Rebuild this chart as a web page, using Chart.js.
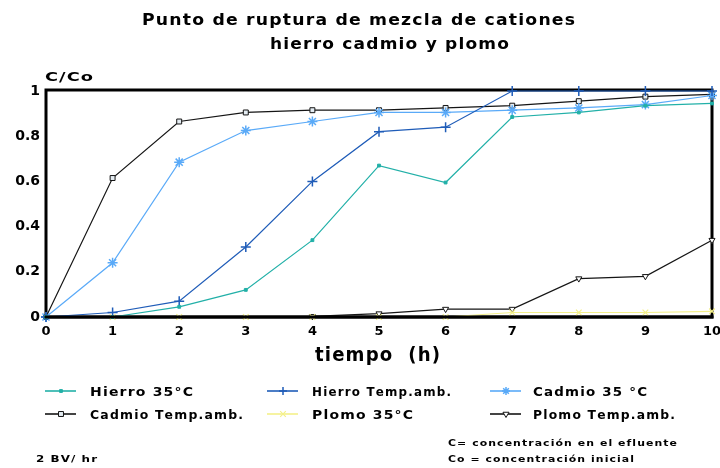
<!DOCTYPE html>
<html><head><meta charset="utf-8">
<script src="https://cdn.jsdelivr.net/npm/chart.js@4/dist/chart.umd.min.js"></script>
<style>html,body{margin:0;padding:0;background:#fff}#wrap{width:720px;height:468px}</style>
</head><body><div id="wrap"><canvas id="c" width="720" height="468"></canvas></div>
<script>
// ---- data ----
const timeLabels = ['0','1','2','3','4','5','6','7','8','9','10'];
const yTickLabels = ['0','0.2','0.4','0.6','0.8','1'];
const seriesNames = ['Hierro 35°C','Hierro Temp.amb.','Cadmio 35 °C','Cadmio Temp.amb.','Plomo 35°C','Plomo Temp.amb.'];
const hierro35   = [0, 0, 0.045, 0.12, 0.34, 0.67, 0.595, 0.885, 0.905, 0.935, 0.945];
const hierroAmb  = [0, 0.02, 0.07, 0.31, 0.60, 0.82, 0.84, 1.0, 1.0, 1.0, 1.0];
const cadmio35   = [0, 0.24, 0.685, 0.825, 0.865, 0.905, 0.905, 0.915, 0.925, 0.94, 0.98];
const cadmioAmb  = [0, 0.615, 0.865, 0.905, 0.915, 0.915, 0.925, 0.935, 0.955, 0.975, 0.985];
const plomo35    = [0, 0, 0, 0, 0, 0, 0, 0.02, 0.02, 0.02, 0.025];
const plomoAmb   = [null, null, null, null, 0.003, 0.015, 0.035, 0.035, 0.17, 0.18, 0.34];
const titleLines = ['Punto de ruptura de mezcla de cationes','hierro cadmio y plomo'];
const yAxisTitle = 'C/Co';
const xAxisTitle = 'tiempo  (h)';
const notes = ['2 BV/ hr','C= concentración en el efluente','Co = concentración inicial'];

// ---- styles ----
const styles = [
  {color:'#22b0a8', point:'rect', r:2, bg:'#22b0a8', bw:1, rot:0},
  {color:'#1f5cb8', point:'cross', r:5, bg:'#1f5cb8', bw:1.5, rot:0},
  {color:'#5aaaf8', point:'star', r:5, bg:'#5aaaf8', bw:1.5, rot:0},
  {color:'#151515', point:'rect', r:3.5, bg:'#e4ecf2', bw:1, rot:0},
  {color:'#f4f08a', point:'crossRot', r:4, bg:'#f4f08a', bw:1.2, rot:0},
  {color:'#151515', point:'triangle', r:3.5, bg:'#ffffff', bw:1, rot:180}
];
const seriesData = [hierro35, hierroAmb, cadmio35, cadmioAmb, plomo35, plomoAmb];

Chart.defaults.font.family = 'DejaVu Sans';
Chart.defaults.color = '#000';

// text widened horizontally plus modest letter spacing to reach target width
function drawWide(ctx, text, x, y, target, size, spFrac){
  ctx.save();
  ctx.font = 'bold ' + size + 'px "DejaVu Sans"'; ctx.fillStyle = '#000';
  ctx.textAlign = 'left'; ctx.textBaseline = 'alphabetic';
  const chars = [...text];
  const ws = chars.map(c => ctx.measureText(c).width);
  const w0 = ws.reduce((a,b)=>a+b,0);
  const sp = size * spFrac;
  const sx = (target - sp*(chars.length-1)) / w0;
  let cx = x;
  chars.forEach((c,i)=>{
    ctx.save(); ctx.translate(cx, y); ctx.scale(sx, 1); ctx.fillText(c, 0, 0); ctx.restore();
    cx += ws[i]*sx + sp;
  });
  ctx.restore();
}

const decor = {
  id:'decor',
  beforeDatasetsDraw(chart){
    const {ctx, chartArea:a} = chart;
    ctx.save();
    ctx.strokeStyle = '#000'; ctx.lineWidth = 3;
    ctx.strokeRect(a.left, a.top-1, a.right-a.left, a.bottom-a.top+1);
    ctx.restore();
  },
  afterDatasetsDraw(chart){
    const {ctx, chartArea:a} = chart;
    ctx.save();
    ctx.strokeStyle = '#000'; ctx.lineWidth = 3;
    ctx.beginPath(); ctx.moveTo(a.left-1.5, a.bottom); ctx.lineTo(a.right+1.5, a.bottom); ctx.stroke();
    ctx.restore();
  },
  afterDraw(chart){
    const ctx = chart.ctx;
    drawWide(ctx, titleLines[0], 142, 25, 433, 15, 0.08);
    drawWide(ctx, titleLines[1], 270, 49, 239, 15, 0.08);
    drawWide(ctx, yAxisTitle, 45, 81, 48, 13, 0.08);
    drawWide(ctx, xAxisTitle, 315, 361, 125, 19, 0.06);
    // legend
    const colLine = [45, 267, 490], colText = [90, 312, 533];
    const rowY = [391, 414];
    const textW = [103, 139, 114, 153, 101, 142];
    seriesNames.forEach((name,i)=>{
      const s = styles[i];
      const row = Math.floor(i/3), col = i%3;
      const y = rowY[row];
      ctx.save();
      ctx.strokeStyle = s.color; ctx.lineWidth = 1.6;
      ctx.beginPath(); ctx.moveTo(colLine[col], y); ctx.lineTo(colLine[col]+31, y); ctx.stroke();
      ctx.fillStyle = s.bg; ctx.strokeStyle = s.color; ctx.lineWidth = s.bw;
      Chart.helpers.drawPoint(ctx, {pointStyle:s.point, radius:Math.min(s.r,4), rotation:s.rot, borderWidth:s.bw}, colLine[col]+16, y);
      ctx.restore();
      drawWide(ctx, name, colText[col], y+5, textW[i], 12, 0.1);
    });
    drawWide(ctx, notes[0], 36, 462, 61, 9, 0.12);
    drawWide(ctx, notes[1], 448, 446, 229, 9, 0.12);
    drawWide(ctx, notes[2], 448, 462, 186, 9, 0.12);
  }
};

new Chart(document.getElementById('c'), {
  type:'line',
  data:{
    labels: timeLabels,
    datasets: seriesData.map((d,i)=>({
      label: seriesNames[i], data: d,
      borderColor: styles[i].color, backgroundColor: styles[i].bg,
      borderWidth: 1.2, tension: 0, fill: false, clip: false,
      pointStyle: styles[i].point, pointRadius: styles[i].r,
      pointBorderWidth: styles[i].bw, pointRotation: styles[i].rot,
      pointBorderColor: styles[i].color, pointBackgroundColor: styles[i].bg
    }))
  },
  options:{
    responsive:false, animation:false,
    layout:{padding:{top:91, left:0, right:8, bottom:121}},
    plugins:{legend:{display:false}, title:{display:false}, tooltip:{enabled:false}},
    scales:{
      x:{
        offset:false,
        grid:{display:false, drawTicks:false}, border:{display:false},
        ticks:{font:{size:13, weight:'bold'}, padding:7, maxRotation:0, autoSkip:false, color:'#000'},
        afterFit(s){ s.height = 30; s.paddingLeft = 0; s.paddingRight = 0; }
      },
      y:{
        min:0, max:1,
        grid:{display:false, drawTicks:false}, border:{display:false},
        ticks:{stepSize:0.2, font:{size:14, weight:'bold'}, padding:6, color:'#000',
          callback:(v,i)=>yTickLabels[i]},
        afterFit(s){ s.width = 46; s.paddingTop = 0; s.paddingBottom = 0; }
      }
    }
  },
  plugins:[decor]
});
</script>
</body></html>
